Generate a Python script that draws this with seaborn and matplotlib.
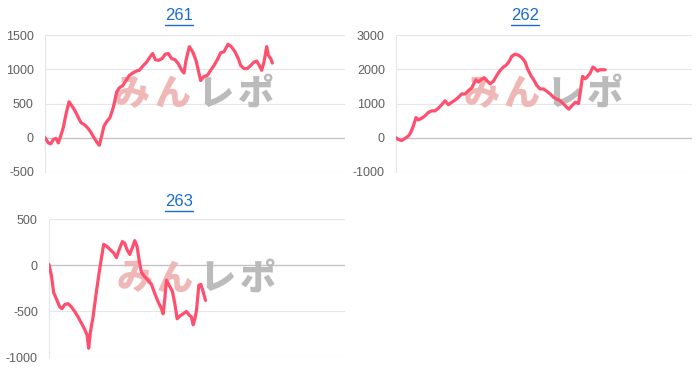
import matplotlib
matplotlib.use("Agg")
import matplotlib.pyplot as plt
import seaborn as sns
import pandas as pd
from matplotlib.lines import Line2D

# ---------------- data ----------------
titles = ["261", "262", "263"]

x261 = [0, 10, 17, 25, 33, 40, 47, 55, 63, 72, 80, 90, 100, 108, 117, 127, 137, 147, 157, 163,
        170, 177, 185, 195, 205, 215, 223, 233, 243, 253, 263, 275, 283, 293, 305, 315, 323, 331,
        341, 351, 361, 370, 380, 390, 400, 410, 417, 423, 433, 443, 453, 461, 467, 477, 487, 497,
        507, 517, 527, 537, 549, 559, 570, 580, 587, 597, 607, 617, 627, 635, 643, 650, 657, 665,
        670, 677, 682]
v261 = [0, -75, -90, -25, -10, -75, 25, 150, 345, 525, 470, 395, 295, 220, 195, 150, 85, 0, -75,
        -110, 25, 170, 235, 295, 445, 665, 730, 760, 835, 910, 945, 975, 985, 1045, 1105, 1180,
        1230, 1140, 1130, 1155, 1220, 1230, 1155, 1140, 1080, 985, 945, 1130, 1330, 1255, 1130,
        960, 835, 895, 910, 985, 1055, 1140, 1240, 1255, 1365, 1330, 1255, 1155, 1055, 1010, 1010,
        1055, 1105, 1120, 1055, 985, 1105, 1330, 1205, 1155, 1090]

x262 = [0, 7, 17, 27, 37, 44, 52, 60, 67, 77, 87, 97, 107, 117, 127, 137, 147, 157, 167, 177,
        187, 197, 207, 217, 227, 234, 240, 247, 254, 264, 272, 282, 292, 302, 312, 322, 330, 338,
        347, 357, 367, 377, 387, 394, 404, 414, 422, 432, 442, 452, 462, 472, 482, 492, 502, 512,
        518, 527, 537, 547, 554, 559, 567, 574, 582, 590, 597, 604, 610, 617, 627]
v262 = [0, -50, -80, -20, 50, 150, 345, 590, 520, 570, 640, 740, 785, 785, 865, 965, 1080, 965,
        1035, 1100, 1180, 1280, 1280, 1375, 1455, 1595, 1690, 1625, 1690, 1750, 1670, 1575, 1650,
        1820, 1965, 2065, 2115, 2215, 2380, 2440, 2410, 2340, 2215, 2015, 1820, 1670, 1525, 1425,
        1425, 1355, 1280, 1180, 1130, 1080, 985, 885, 835, 935, 1035, 1000, 1455, 1790, 1720, 1790,
        1890, 2065, 2015, 1945, 1985, 1985, 1985]

x263 = [0, 7, 14, 24, 32, 39, 47, 57, 67, 77, 87, 97, 107, 114, 119, 124, 132, 142, 150, 157,
        164, 174, 184, 194, 202, 210, 220, 227, 234, 242, 250, 257, 264, 270, 277, 287, 297, 307,
        317, 327, 337, 342, 347, 352, 360, 370, 377, 384, 392, 402, 412, 420, 427, 432, 437, 442,
        449, 455, 462, 469]
v263 = [5, -110, -300, -385, -455, -475, -430, -420, -455, -505, -565, -630, -700, -760, -905,
        -730, -565, -290, -90, 75, 225, 200, 165, 130, 80, 165, 255, 235, 165, 115, 190, 265, 200,
        55, -80, -130, -165, -210, -310, -400, -475, -530, -365, -165, -220, -290, -420, -585,
        -555, -530, -505, -545, -565, -650, -585, -495, -220, -210, -290, -385]

xs = [x261, x262, x263]
vs = [v261, v262, v263]
ylims = [(-500, 1500), (-1000, 3000), (-1000, 500)]
ysteps = [500, 1000, 500]
xmax = [900, 887, 887]

# ---------------- style ----------------
sns.set_style("white")
plt.rcParams["font.family"] = ["Liberation Sans", "DejaVu Sans"]

LINE = "#ff4f6e"
GRID = "#e6e6e6"
ZERO = "#c4c4c4"
TICK_TXT = "#5f5f5f"
TITLE = "#1a6bd0"

fig = plt.figure(figsize=(7.0, 3.72), dpi=100)
W, H = 700, 372
# axes boxes in pixels: left, right, top, bottom
boxes = [(45, 345, 35, 172), (396, 692, 35, 172), (49, 345, 219, 357)]
title_pos = [(179, 16), (525, 16), (179, 202)]

axes = []
for i in range(3):
    l, r, t, b = boxes[i]
    ax = fig.add_axes([l / W, 1 - b / H, (r - l) / W, (b - t) / H])
    axes.append(ax)
    df = pd.DataFrame({"x": xs[i], "v": vs[i]})
    sns.lineplot(data=df, x="x", y="v", ax=ax, color=LINE, linewidth=2.3,
                 estimator=None, sort=False, zorder=5)
    lo, hi = ylims[i]
    ax.set_xlim(0, xmax[i])
    ax.set_ylim(lo, hi)
    ticks = list(range(lo, hi + 1, ysteps[i]))
    ax.set_yticks(ticks)
    ax.set_yticklabels([str(tk) for tk in ticks])
    ax.set_xticks([])
    ax.set_xlabel("")
    ax.set_ylabel("")
    for tk in ticks:
        ax.axhline(tk, color=ZERO if tk == 0 else GRID,
                   linewidth=1.0 if tk == 0 else 0.8, zorder=1)
    for s in ["top", "right", "bottom"]:
        ax.spines[s].set_visible(False)
    ax.spines["left"].set_color(GRID)
    ax.spines["left"].set_linewidth(0.8)
    ax.tick_params(axis="y", length=7, width=0.8, color=GRID, pad=1,
                   labelsize=9, labelcolor=TICK_TXT)
    ax.patch.set_alpha(0)

    # watermark
    wm_chars = ["み", "ん", "レ", "ポ"]
    wm_cols = ["#efb0b0", "#efb0b0", "#b4b4b4", "#b4b4b4"]
    wm_x = [0.29, 0.425, 0.57, 0.705]
    for ch, c, xx in zip(wm_chars, wm_cols, wm_x):
        ax.text(xx, 0.57, ch, transform=ax.transAxes, ha="center", va="center",
                fontsize=26, fontweight="black", color=c, alpha=0.9,
                family=["Noto Sans CJK JP", "DejaVu Sans"], zorder=2)

# titles with underline
texts = []
for i in range(3):
    tx, ty = title_pos[i]
    t = fig.text(tx / W, 1 - ty / H, titles[i], ha="center", va="center",
                 fontsize=12, color=TITLE)
    texts.append(t)

fig.canvas.draw()
renderer = fig.canvas.get_renderer()
for t in texts:
    bb = t.get_window_extent(renderer=renderer)
    x0, x1 = bb.x0 / W, bb.x1 / W
    yline = (bb.y0 - 1.0) / H
    fig.add_artist(Line2D([x0, x1], [yline, yline], color=TITLE, linewidth=1.0))

fig.savefig("out.png", dpi=100)
